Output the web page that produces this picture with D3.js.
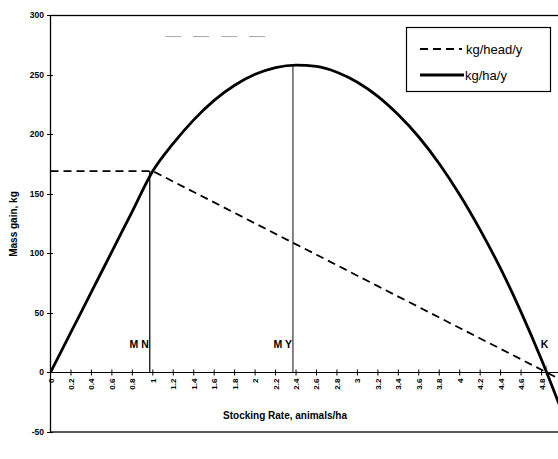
<!DOCTYPE html>
<html>
<head>
<script src="https://d3js.org/d3.v7.min.js"></script>
<style>
body { margin:0; background:#fff; }
text { font-family: "Liberation Sans", Arial, sans-serif; fill:#000; }
</style>
</head>
<body>
<svg id="chart" width="558" height="459"></svg>
<script>
// stocking rate, animals/ha
var stocking = [0, 0.2, 0.4, 0.6, 0.8, 1.0, 1.2, 1.4, 1.6, 1.8, 2.0, 2.2, 2.4, 2.6, 2.8, 3.0, 3.2, 3.4, 3.6, 3.8, 4.0, 4.2, 4.4, 4.6, 4.8, 5.0];
// kg/head/y
var headGain = [169, 169, 169, 169, 169, 169, 160.2, 151.4, 142.7, 133.9, 125.1, 116.3, 107.5, 98.8, 90.0, 81.2, 72.4, 63.6, 54.9, 46.1, 37.3, 28.5, 19.8, 11.0, 2.2, -6.6];
// kg/ha/y
var haGain = [0, 33.8, 67.6, 101.4, 135.2, 169, 192.2, 212.0, 228.3, 241.0, 250.2, 255.9, 258.0, 256.9, 252.0, 243.6, 231.7, 216.2, 197.6, 175.2, 149.2, 119.7, 87.1, 50.6, 10.6, -33.0];

var xTickLabels = ["0","0.2","0.4","0.6","0.8","1","1.2","1.4","1.6","1.8","2","2.2","2.4","2.6","2.8","3","3.2","3.4","3.6","3.8","4","4.2","4.4","4.6","4.8"];
var yTicks = [-50, 0, 50, 100, 150, 200, 250, 300];

var markerNames = ["M N", "M Y", "K"];
var markerX = [0.97, 2.37, 4.85];
var markerTop = [169, 258, 6];

var legendNames = ["kg/head/y", "kg/ha/y"];

var svg = d3.select("#chart");
var x = d3.scaleLinear().domain([0, 5]).range([50.5, 562]);
var y = d3.scaleLinear().domain([-50, 300]).range([432, 15]);

svg.append("defs").append("clipPath").attr("id","clip")
   .append("rect").attr("x",50).attr("y",15).attr("width",512).attr("height",417);

// plot frame
svg.append("rect").attr("x",50.5).attr("y",15.5).attr("width",512).attr("height",416.5)
   .attr("fill","none").attr("stroke","#000").attr("stroke-width",1.3);

// faint scan line near top
svg.append("line").attr("x1",165).attr("x2",277).attr("y1",36.5).attr("y2",36.5)
   .attr("stroke","#aaa").attr("stroke-width",1).attr("stroke-dasharray","16,12");

// y ticks + labels
var yg = svg.append("g");
yg.selectAll("line").data(yTicks).join("line")
  .attr("x1",47).attr("x2",53).attr("y1",d=>Math.round(y(d))+0.5).attr("y2",d=>Math.round(y(d))+0.5)
  .attr("stroke","#000");
yg.selectAll("text").data(yTicks).join("text")
  .attr("x",44).attr("y",d=>y(d)+3)
  .attr("text-anchor","end").attr("font-size",8.5).attr("font-weight","bold")
  .text(d=>d);

// zero axis
var y0 = Math.round(y(0))+0.5;
svg.append("line").attr("x1",50).attr("x2",562).attr("y1",y0).attr("y2",y0)
   .attr("stroke","#000").attr("stroke-width",1.2);

var xg = svg.append("g");
xg.selectAll("line").data(xTickLabels).join("line")
  .attr("x1",(d,i)=>x(i*0.2)).attr("x2",(d,i)=>x(i*0.2))
  .attr("y1",y0-3).attr("y2",y0+3)
  .attr("stroke","#000");
xg.selectAll("text").data(xTickLabels).join("text")
  .attr("transform",(d,i)=>"translate("+(x(i*0.2)+3)+","+(y0+6)+") rotate(-90)")
  .attr("text-anchor","end").attr("font-size",8).attr("font-weight","bold")
  .text(d=>d);

// marker verticals
svg.selectAll("line.marker").data(markerX).join("line")
   .attr("class","marker")
   .attr("x1",d=>x(d)).attr("x2",d=>x(d))
   .attr("y1",y0).attr("y2",(d,i)=>y(markerTop[i]))
   .attr("stroke",(d,i)=>i==2 ? "#aaa" : "#222")
   .attr("stroke-width",(d,i)=>i==0 ? 1.4 : 1.1);
svg.selectAll("text.marker").data(markerNames).join("text")
   .attr("class","marker")
   .attr("x",(d,i)=>i==2 ? x(markerX[i])-2 : x(markerX[i])-1)
   .attr("y",348)
   .attr("text-anchor",(d,i)=>i==2 ? "middle" : "end")
   .attr("font-size",10.5).attr("font-weight","bold")
   .text(d=>d);

// series
var plot = svg.append("g").attr("clip-path","url(#clip)");
var headLine = d3.line().x((d,i)=>x(stocking[i])).y(d=>y(d));
var haLine = d3.line().x((d,i)=>x(stocking[i])).y(d=>y(d)).curve(d3.curveMonotoneX);

plot.append("path").datum(headGain).attr("d",headLine)
    .attr("fill","none").attr("stroke","#000").attr("stroke-width",1.8)
    .attr("stroke-dasharray","8,5");
plot.append("path").datum(haGain).attr("d",haLine)
    .attr("fill","none").attr("stroke","#000").attr("stroke-width",2.8);

// legend
var lg = svg.append("g");
lg.append("rect").attr("x",406.5).attr("y",27.5).attr("width",144).attr("height",64)
  .attr("fill","#fff").attr("stroke","#000").attr("stroke-width",1.2);
lg.selectAll("line").data(legendNames).join("line")
  .attr("x1",420).attr("x2",(d,i)=>i==0 ? 462 : 464)
  .attr("y1",(d,i)=>49+i*26).attr("y2",(d,i)=>49+i*26)
  .attr("stroke","#000")
  .attr("stroke-width",(d,i)=>i==0 ? 1.8 : 3)
  .attr("stroke-dasharray",(d,i)=>i==0 ? "8,5" : null);
lg.selectAll("text").data(legendNames).join("text")
  .attr("x",(d,i)=>i==0 ? 466 : 465).attr("y",(d,i)=>54+i*26)
  .attr("font-size",13)
  .text(d=>d);

// axis titles
svg.append("text").attr("x",285).attr("y",419).attr("text-anchor","middle")
   .attr("font-size",10).attr("font-weight","bold")
   .text("Stocking Rate, animals/ha");
svg.append("text").attr("transform","translate(17,224) rotate(-90)").attr("text-anchor","middle")
   .attr("font-size",10).attr("font-weight","bold")
   .text("Mass gain, kg");
</script>
</body>
</html>
